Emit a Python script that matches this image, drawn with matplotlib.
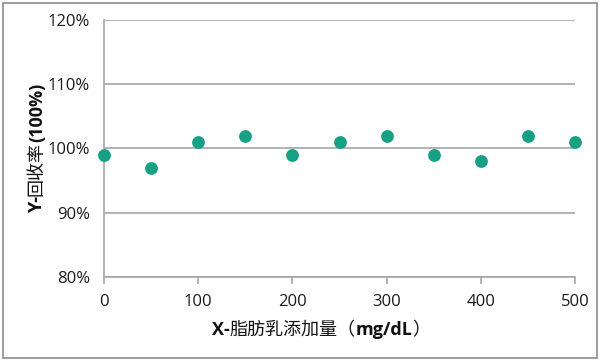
import matplotlib
matplotlib.use("Agg")
import matplotlib.pyplot as plt
import matplotlib.patches as patches
from matplotlib.ticker import FuncFormatter

# data
fat_added = [0, 50, 100, 150, 200, 250, 300, 350, 400, 450, 500]
recovery = [99, 97, 101, 102, 99, 101, 102, 99, 98, 102, 101]
x_ticks = [0, 100, 200, 300, 400, 500]
y_ticks = [80, 90, 100, 110, 120]

# label pieces: (text, bold?)
x_label_parts = [("X-", True), ("脂肪乳添加量（", False), ("mg/dL", True), ("）", False)]
y_label_parts = [("Y-", True), ("回收率", False), ("(100%)", True)]

grey = "#a6a6a6"
teal = "#17a084"
latin = ["Open Sans", "DejaVu Sans"]
cjk = ["Noto Sans CJK SC", "DejaVu Sans"]

fig = plt.figure(figsize=(6.0, 3.61), dpi=100)
fig.patches.append(patches.Rectangle((3 / 600, 3 / 361), 594 / 600, 355 / 361,
                                     transform=fig.transFigure, fill=False,
                                     edgecolor="#8c8c8c", linewidth=1.2))

ax = fig.add_axes([104 / 600, 84 / 361, 471 / 600, 257 / 361])
ax.scatter(fat_added, recovery, s=85, color=teal, zorder=3, clip_on=False,
           linewidths=0)

ax.set_xlim(0, 500)
ax.set_ylim(80, 120)
ax.set_xticks(x_ticks)
ax.set_yticks(y_ticks)
ax.yaxis.set_major_formatter(FuncFormatter(lambda v, p: "%d%%" % v))
ax.grid(axis="y", color=grey, linewidth=1.2)
ax.set_axisbelow(True)
for s in ["top", "right"]:
    ax.spines[s].set_visible(False)
for s in ["left", "bottom"]:
    ax.spines[s].set_color(grey)
    ax.spines[s].set_linewidth(1.2)
ax.tick_params(axis="y", length=0, pad=10, labelsize=12, labelcolor="#1a1a1a")
ax.tick_params(axis="x", length=5, width=1.2, color=grey, pad=7,
               labelsize=12, labelcolor="#1a1a1a")
for lab in ax.get_xticklabels() + ax.get_yticklabels():
    lab.set_family(latin)


def piece_font(bold):
    if bold:
        return dict(family=latin, fontweight="bold", fontsize=13)
    return dict(family=cjk, fontweight="normal", fontsize=13)


# measure each label piece, then lay them out side by side
fig.canvas.draw()
renderer = fig.canvas.get_renderer()


def widths(parts):
    out = []
    for txt, bold in parts:
        t = fig.text(0, 0, txt, **piece_font(bold))
        out.append(t.get_window_extent(renderer).width)
        t.remove()
    return out


xw = widths(x_label_parts)
xpos = 321 - sum(xw) / 2
for (txt, bold), w in zip(x_label_parts, xw):
    fig.text(xpos / 600, 1 - 330 / 361, txt, ha="left", va="center",
             color="#111111", **piece_font(bold))
    xpos += w

yw = widths(y_label_parts)
ypos = (361 - 148) - sum(yw) / 2
for (txt, bold), w in zip(y_label_parts, yw):
    fig.text(37 / 600, ypos / 361, txt, ha="left", va="center", rotation=90,
             rotation_mode="anchor", color="#111111", **piece_font(bold))
    ypos += w

fig.savefig("out.png", dpi=100)
